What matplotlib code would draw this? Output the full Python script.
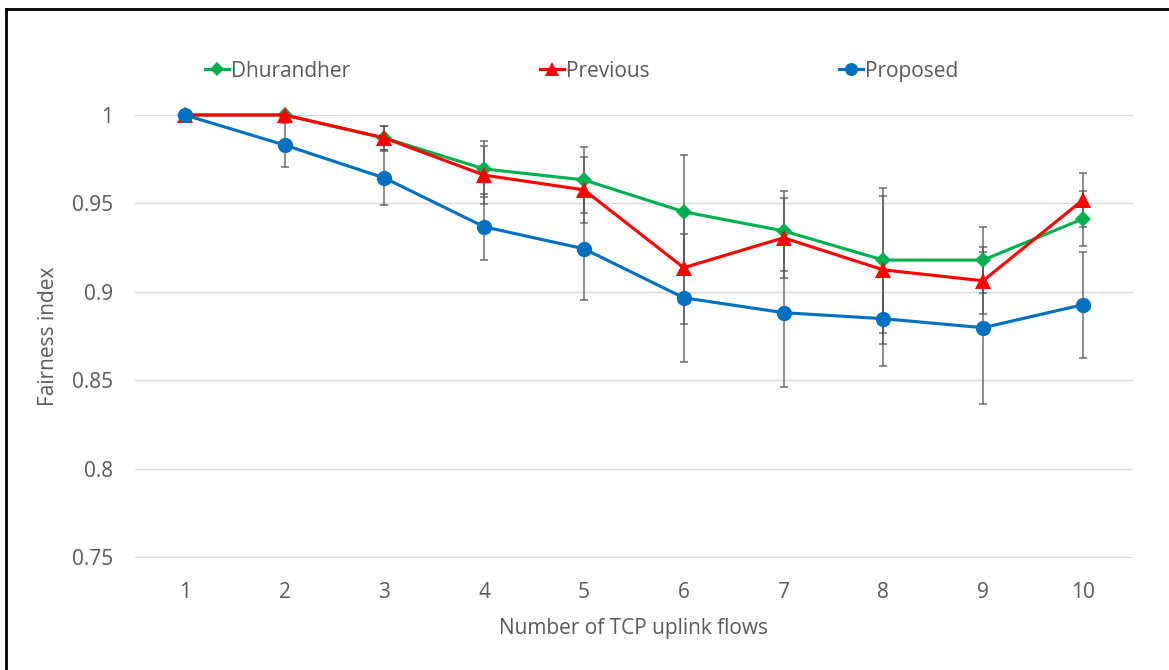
import matplotlib
matplotlib.use("Agg")
import matplotlib.pyplot as plt
from matplotlib.lines import Line2D

plt.rcParams['font.family'] = ['Open Sans', 'DejaVu Sans']

# data
flows = [1, 2, 3, 4, 5, 6, 7, 8, 9, 10]
dhurandher = [1.0, 1.0, 0.987, 0.9695, 0.9633, 0.9453, 0.9345, 0.918, 0.918, 0.9413]
dhurandher_err = [0, 0, 0.007, 0.016, 0.0186, 0.032, 0.0225, 0.041, 0.0186, 0.0155]
previous = [1.0, 1.0, 0.987, 0.966, 0.9577, 0.9137, 0.9306, 0.9125, 0.9063, 0.952]
previous_err = [0, 0, 0.007, 0.0165, 0.0186, 0.032, 0.0225, 0.042, 0.019, 0.0153]
proposed = [1.0, 0.983, 0.9644, 0.9368, 0.9244, 0.8967, 0.8883, 0.8849, 0.8798, 0.8928]
proposed_err = [0, 0.0124, 0.015, 0.0186, 0.029, 0.036, 0.042, 0.027, 0.043, 0.030]
yticks = [0.75, 0.8, 0.85, 0.9, 0.95, 1]
ytick_labels = ['0.75', '0.8', '0.85', '0.9', '0.95', '1']

GREEN = '#00b050'
RED = '#ff0000'
BLUE = '#0070c0'
TXT = '#595959'
FS = 15

fig = plt.figure(figsize=(11.69, 6.70), dpi=100)
ax = fig.add_axes([0.1155, 0.1672, 0.8535, 0.6612])

series = [
    (dhurandher, dhurandher_err, GREEN, 'D', 8, 'Dhurandher'),
    (previous, previous_err, RED, '^', 12, 'Previous'),
    (proposed, proposed_err, BLUE, 'o', 11, 'Proposed'),
]

for vals, err, col, mk, ms, lab in series:
    ax.errorbar(flows, vals, yerr=err, fmt='none', ecolor='#555555',
                elinewidth=1.1, capsize=3, capthick=1.1, alpha=0.85,
                zorder=2, clip_on=False)

handles = []
for vals, err, col, mk, ms, lab in series:
    ax.plot(flows, vals, color=col, lw=2.25, marker=mk, markersize=ms,
            markeredgewidth=0, zorder=3, clip_on=False)
    handles.append(Line2D([], [], color=col, lw=2.25, marker=mk,
                          markersize=ms * 0.85, markeredgewidth=0, label=lab))

ax.set_xlim(0.5, 10.5)
ax.set_ylim(0.7497, 1.0)
ax.set_xticks(flows)
ax.set_xticklabels([str(f) for f in flows])
ax.set_yticks(yticks)
ax.set_yticklabels(ytick_labels)
ax.tick_params(axis='both', length=0, labelsize=FS, colors=TXT)
ax.tick_params(axis='x', pad=17)
ax.tick_params(axis='y', pad=16)
ax.grid(axis='y', color='#d9d9d9', lw=1)
ax.set_axisbelow(True)
for s in ax.spines.values():
    s.set_visible(False)

ax.set_xlabel('Number of TCP uplink flows', fontsize=FS, color=TXT, labelpad=11)
ax.set_ylabel('Fairness index', fontsize=FS, color=TXT, labelpad=9)

leg = fig.legend(handles=handles, loc='center left', bbox_to_anchor=(0.1755, 0.894),
                 ncol=3, frameon=False, fontsize=FS, handlelength=1.15,
                 handletextpad=0.1, columnspacing=9.1, labelcolor=TXT,
                 borderpad=0, borderaxespad=0)

# black frame lines at top and left
fig.add_artist(Line2D([0.0052, 1.0], [0.9866, 0.9866], color='black', lw=2,
                      transform=fig.transFigure))
fig.add_artist(Line2D([0.0052, 0.0052], [0.0, 0.9866], color='black', lw=2,
                      transform=fig.transFigure))

fig.savefig('out.png', dpi=100)
